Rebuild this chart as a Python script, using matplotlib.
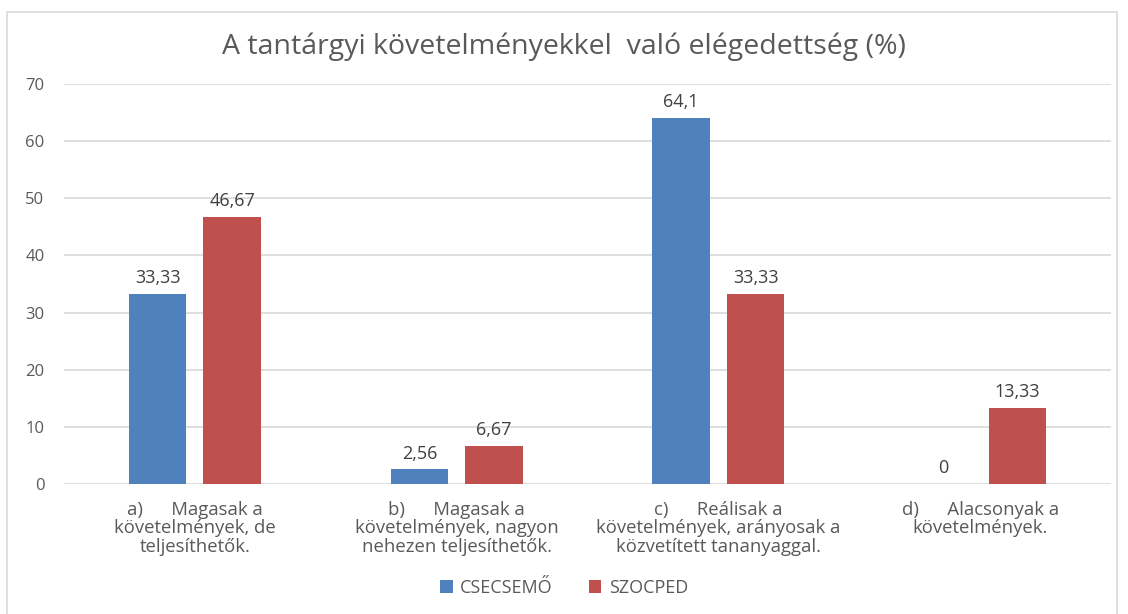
import matplotlib.pyplot as plt
import matplotlib.patches as mpatches
import numpy as np

# data
categories = [
    "a)      Magasak a\nkövetelmények, de\nteljesíthetők.",
    "b)      Magasak a\nkövetelmények, nagyon\nnehezen teljesíthetők.",
    "c)      Reálisak a\nkövetelmények, arányosak a\nközvetített tananyaggal.",
    "d)      Alacsonyak a\nkövetelmények.",
]
csecsemo = [33.33, 2.56, 64.1, 0]
szocped = [46.67, 6.67, 33.33, 13.33]
csecsemo_labels = ["33,33", "2,56", "64,1", "0"]
szocped_labels = ["46,67", "6,67", "33,33", "13,33"]

plt.rcParams["font.family"] = ["Open Sans", "DejaVu Sans"]

fig = plt.figure(figsize=(11.28, 6.14), dpi=100)
ax = fig.add_axes([64 / 1128, 1 - 484 / 614, (1111 - 64) / 1128, 400 / 614])

# frame around the whole chart
fig.patches.append(mpatches.Rectangle((7 / 1128, -0.01), (1117 - 7) / 1128, 1 - 12 / 614 + 0.01,
                                      transform=fig.transFigure, fill=False,
                                      edgecolor="#D9D9D9", linewidth=1.2))

x = np.arange(len(categories))
w = 0.22
off = 0.1425
b1 = ax.bar(x - off, csecsemo, w, color="#4F81BD", label="CSECSEMŐ", zorder=3)
b2 = ax.bar(x + off, szocped, w, color="#C0504D", label="SZOCPED", zorder=3)

for bars, labs in ((b1, csecsemo_labels), (b2, szocped_labels)):
    for bar, lab in zip(bars, labs):
        ax.text(bar.get_x() + bar.get_width() / 2, bar.get_height() + 1.2, lab,
                ha="center", va="bottom", fontsize=13, color="#404040")

ax.set_xlim(-0.5, 3.5)
ax.set_ylim(0, 70)
ax.set_yticks(range(0, 71, 10))
ax.yaxis.grid(True, color="#D9D9D9", linewidth=1.2, zorder=0)
ax.set_axisbelow(True)
for s in ax.spines.values():
    s.set_visible(False)
ax.tick_params(axis="y", length=0, pad=14, labelsize=12, labelcolor="#595959")
ax.tick_params(axis="x", length=0, pad=12, labelsize=13.3, labelcolor="#595959")
ax.set_xticks(x)
ax.set_xticklabels(categories, linespacing=1.05)

fig.text(0.5, 1 - 47 / 614, "A tantárgyi követelményekkel  való elégedettség (%)",
         ha="center", va="center", fontsize=20.5, color="#595959")

fig.legend(handles=[b1, b2], loc="center", bbox_to_anchor=(564 / 1128, 1 - 588 / 614),
           ncol=2, frameon=False, fontsize=13, labelcolor="#595959",
           handlelength=0.7, handleheight=0.7, columnspacing=2.0, handletextpad=0.4)

fig.savefig("out.png", dpi=100)
